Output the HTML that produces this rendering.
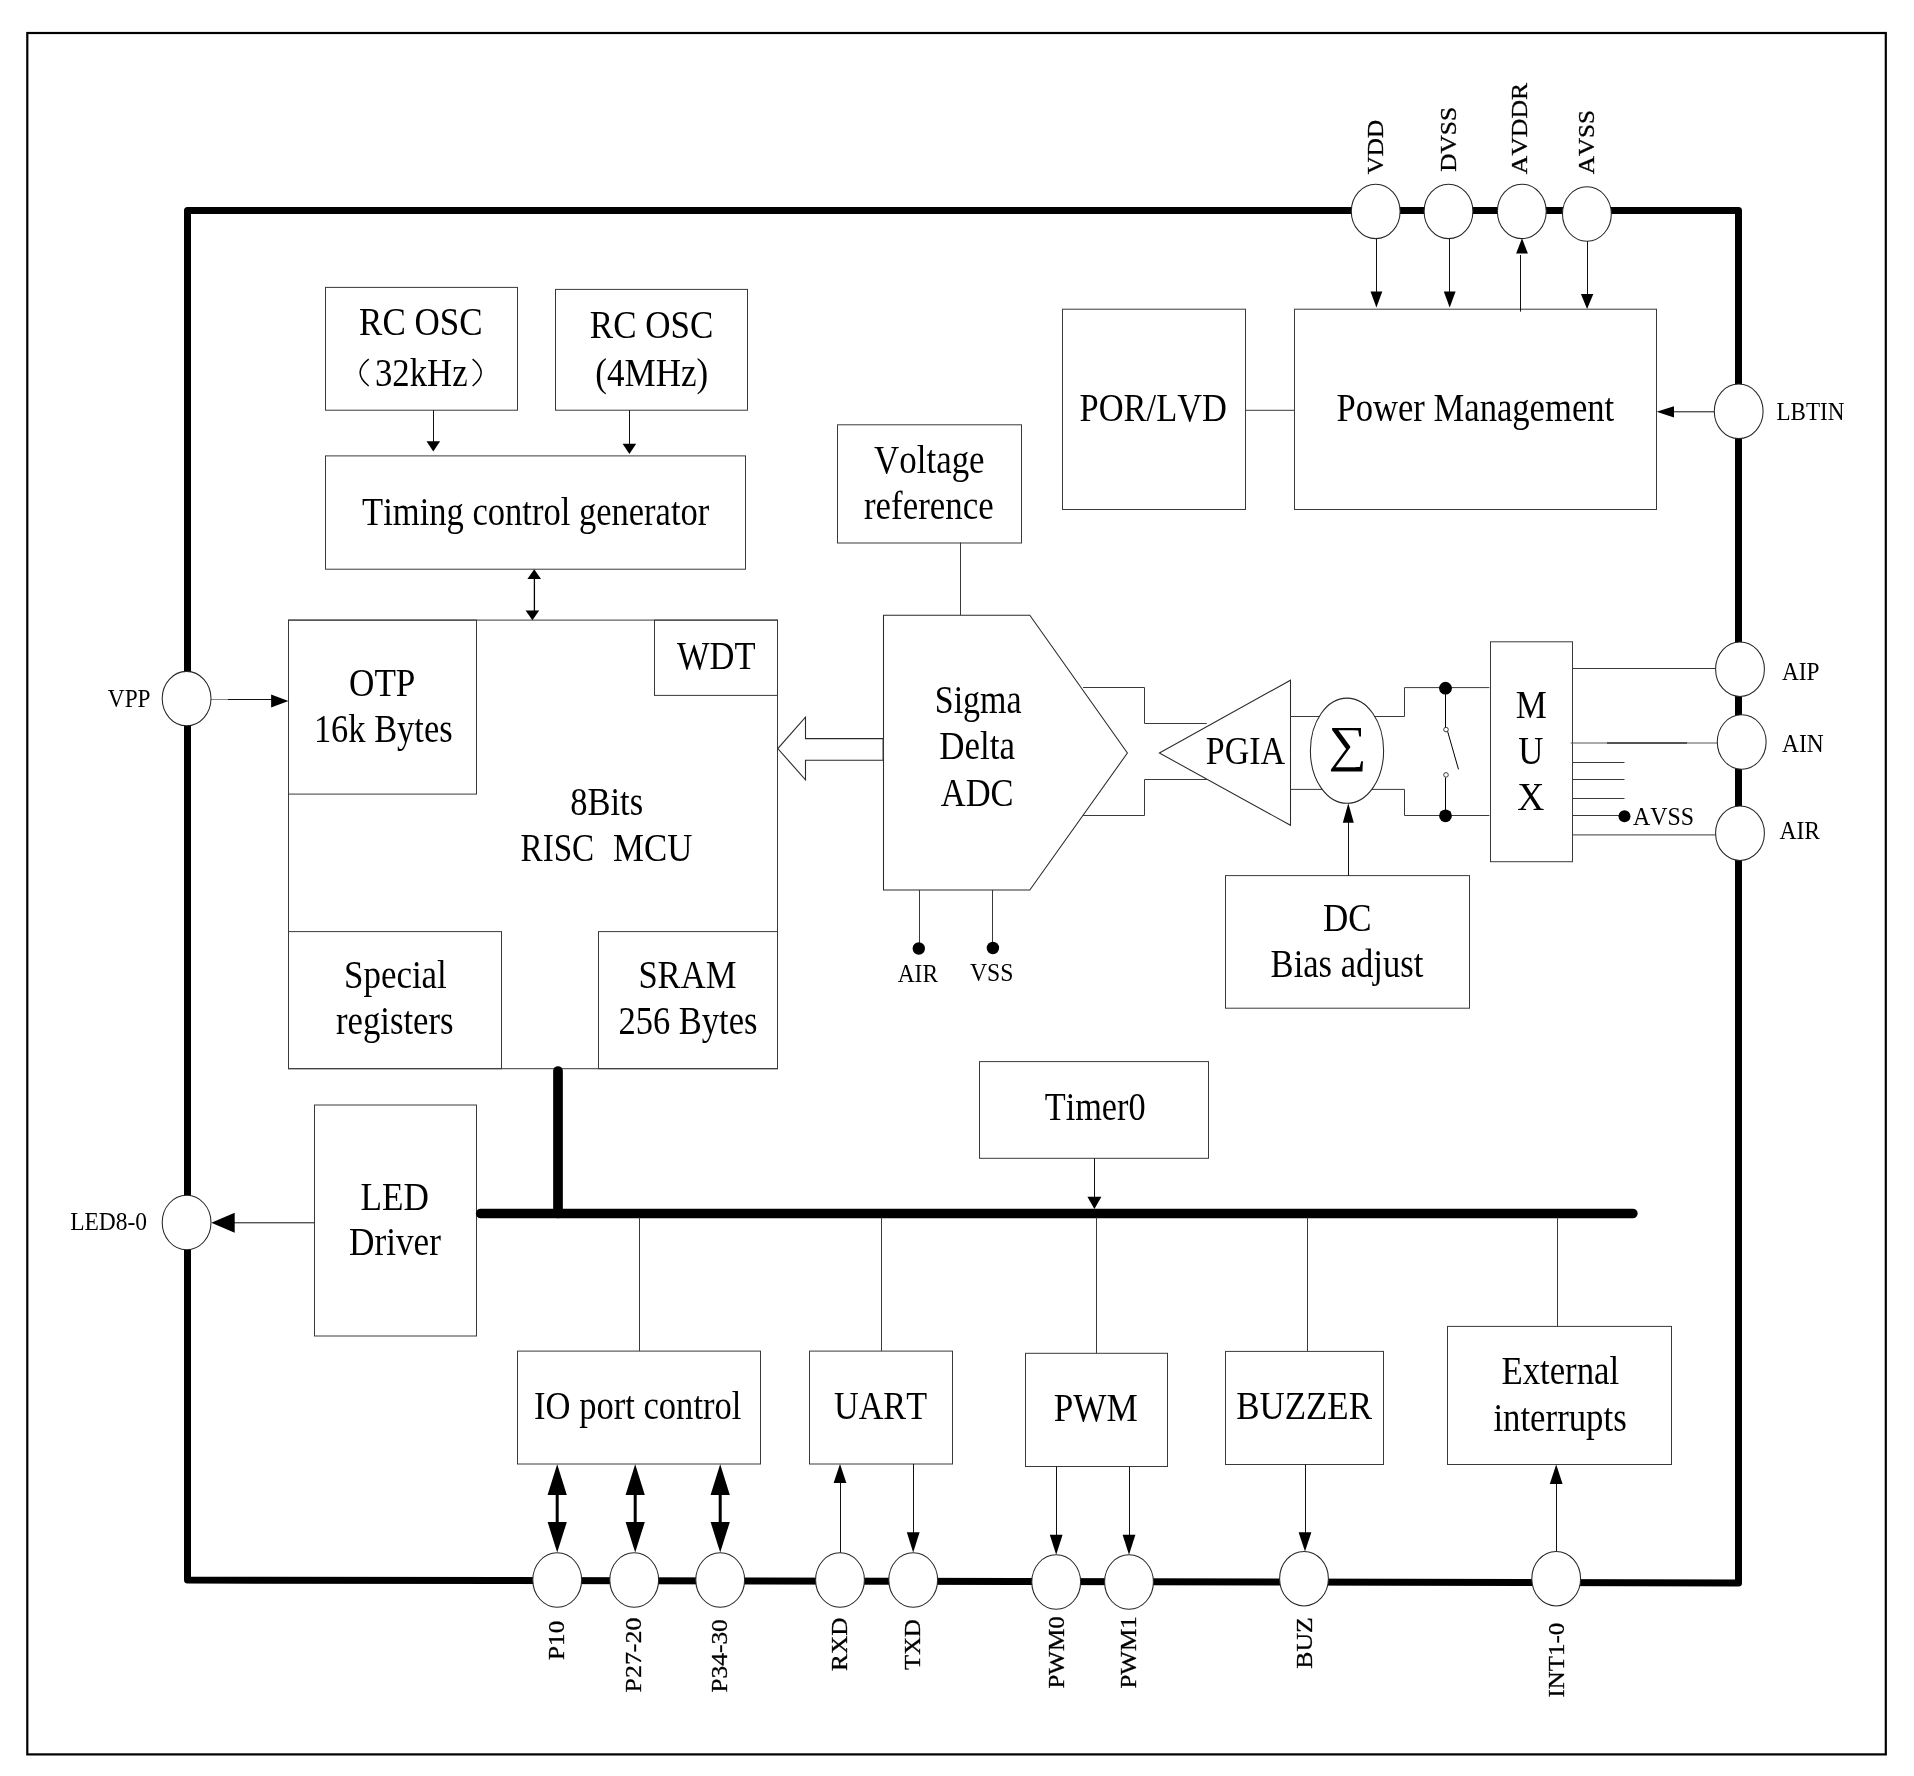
<!DOCTYPE html>
<html><head><meta charset="utf-8"><title>Block diagram</title>
<style>
html,body{margin:0;padding:0;background:#fff;}
body{width:1914px;height:1776px;overflow:hidden;}
svg{display:block;will-change:transform;}
text{font-family:"Liberation Serif",serif;font-kerning:none;}
</style></head><body>
<svg width="1914" height="1776" viewBox="0 0 1914 1776">
<rect x="0" y="0" width="1914" height="1776" fill="#fff"/>
<rect x="27.3" y="33.0" width="1858.5" height="1721.4" fill="none" stroke="#000" stroke-width="2.2"/>
<path d="M187.5 210.4 L1738.5 210.4 L1738.5 1583.0 L187.5 1580.0 L187.5 210.4" fill="none" stroke="#000" stroke-width="7.0" stroke-linecap="round" stroke-linejoin="round"/>
<rect x="325.5" y="287.4" width="192.0" height="122.8" fill="none" stroke="#3a3a3a" stroke-width="1.0"/>
<rect x="555.5" y="289.4" width="192.0" height="120.8" fill="none" stroke="#3a3a3a" stroke-width="1.0"/>
<rect x="325.5" y="455.9" width="420.0" height="113.3" fill="none" stroke="#3a3a3a" stroke-width="1.0"/>
<rect x="837.5" y="424.8" width="184.0" height="118.2" fill="none" stroke="#3a3a3a" stroke-width="1.0"/>
<rect x="1062.5" y="309.2" width="183.0" height="200.3" fill="none" stroke="#3a3a3a" stroke-width="1.0"/>
<rect x="1294.5" y="309.2" width="362.0" height="200.3" fill="none" stroke="#3a3a3a" stroke-width="1.0"/>
<rect x="288.5" y="620.1" width="489.0" height="448.6" fill="none" stroke="#3a3a3a" stroke-width="1.0"/>
<rect x="288.5" y="620.1" width="188.0" height="174.0" fill="none" stroke="#3a3a3a" stroke-width="1.0"/>
<rect x="654.5" y="620.1" width="123.0" height="75.3" fill="none" stroke="#3a3a3a" stroke-width="1.0"/>
<rect x="288.5" y="931.6" width="213.0" height="137.1" fill="none" stroke="#3a3a3a" stroke-width="1.0"/>
<rect x="598.5" y="931.6" width="179.0" height="137.1" fill="none" stroke="#3a3a3a" stroke-width="1.0"/>
<rect x="314.5" y="1105.0" width="162.0" height="231.0" fill="none" stroke="#3a3a3a" stroke-width="1.0"/>
<rect x="1225.5" y="875.6" width="244.0" height="132.6" fill="none" stroke="#3a3a3a" stroke-width="1.0"/>
<rect x="979.5" y="1061.6" width="229.0" height="96.7" fill="none" stroke="#3a3a3a" stroke-width="1.0"/>
<rect x="517.5" y="1351.1" width="243.0" height="112.9" fill="none" stroke="#3a3a3a" stroke-width="1.0"/>
<rect x="809.5" y="1351.1" width="143.0" height="112.9" fill="none" stroke="#3a3a3a" stroke-width="1.0"/>
<rect x="1025.5" y="1353.3" width="142.0" height="113.2" fill="none" stroke="#3a3a3a" stroke-width="1.0"/>
<rect x="1225.5" y="1351.4" width="158.0" height="113.1" fill="none" stroke="#3a3a3a" stroke-width="1.0"/>
<rect x="1447.5" y="1326.4" width="224.0" height="138.1" fill="none" stroke="#3a3a3a" stroke-width="1.0"/>
<rect x="1490.5" y="641.8" width="82.0" height="219.9" fill="none" stroke="#3a3a3a" stroke-width="1.0"/>
<polygon points="883.5,615.2 1029.8,615.2 1127.4,753.0 1029.8,890.0 883.5,890.0" fill="none" stroke="#2a2a2a" stroke-width="1.05"/>
<path d="M960.5 542.5 L960.5 615.2" fill="none" stroke="#3a3a3a" stroke-width="1.0" stroke-linecap="butt" stroke-linejoin="miter"/>
<path d="M919.5 890.0 L919.5 948.0" fill="none" stroke="#3a3a3a" stroke-width="1.0" stroke-linecap="butt" stroke-linejoin="miter"/>
<circle cx="918.8" cy="948.5" r="6.2" fill="#000"/>
<path d="M992.5 890.0 L992.5 948.0" fill="none" stroke="#3a3a3a" stroke-width="1.0" stroke-linecap="butt" stroke-linejoin="miter"/>
<circle cx="992.9" cy="948.0" r="6.2" fill="#000"/>
<polygon points="883.1,738.6 805.5,738.6 805.5,717.1 777.8,748.6 805.5,779.8 805.5,760.2 883.1,760.2" fill="#fff" stroke="#2a2a2a" stroke-width="1.1"/>
<polygon points="1159.4,753.0 1290.5,680.2 1290.5,825.3" fill="none" stroke="#2a2a2a" stroke-width="1.05"/>
<path d="M1083.1 687.5 L1144.5 687.5 L1144.5 723.5 L1206.8 723.5" fill="none" stroke="#3a3a3a" stroke-width="1.0" stroke-linecap="butt" stroke-linejoin="miter"/>
<path d="M1083.1 815.5 L1144.5 815.5 L1144.5 779.5 L1206.8 779.5" fill="none" stroke="#3a3a3a" stroke-width="1.0" stroke-linecap="butt" stroke-linejoin="miter"/>
<path d="M1290.5 716.5 L1335.0 716.5" fill="none" stroke="#3a3a3a" stroke-width="1.0" stroke-linecap="butt" stroke-linejoin="miter"/>
<path d="M1290.5 789.4 L1335.0 789.4" fill="none" stroke="#3a3a3a" stroke-width="1.0" stroke-linecap="butt" stroke-linejoin="miter"/>
<path d="M1360.0 716.5 L1404.5 716.5 L1404.5 687.6 L1489.4 687.6" fill="none" stroke="#3a3a3a" stroke-width="1.0" stroke-linecap="butt" stroke-linejoin="miter"/>
<path d="M1360.0 789.4 L1404.5 789.4 L1404.5 815.5 L1489.4 815.5" fill="none" stroke="#3a3a3a" stroke-width="1.0" stroke-linecap="butt" stroke-linejoin="miter"/>
<ellipse cx="1347.0" cy="750.7" rx="36.6" ry="52.6" fill="#fff" stroke="#262626" stroke-width="1.05"/>
<circle cx="1445.5" cy="688.2" r="6.4" fill="#000"/>
<circle cx="1445.5" cy="815.8" r="6.4" fill="#000"/>
<path d="M1445.5 688.0 L1445.5 727.0" fill="none" stroke="#000" stroke-width="1.0" stroke-linecap="butt" stroke-linejoin="miter"/>
<path d="M1447.5 731.0 L1458.5 769.4" fill="none" stroke="#000" stroke-width="1.0" stroke-linecap="butt" stroke-linejoin="miter"/>
<path d="M1445.5 777.5 L1445.5 815.0" fill="none" stroke="#000" stroke-width="1.0" stroke-linecap="butt" stroke-linejoin="miter"/>
<ellipse cx="1446.0" cy="729.6" rx="2.3" ry="2.3" fill="#fff" stroke="#262626" stroke-width="0.9"/>
<ellipse cx="1446.0" cy="774.9" rx="2.3" ry="2.3" fill="#fff" stroke="#262626" stroke-width="0.9"/>
<path d="M1348.5 875.6 L1348.5 815.0" fill="none" stroke="#111" stroke-width="1.0" stroke-linecap="butt" stroke-linejoin="miter"/>
<polygon points="1348.3,803.3 1342.8,822.8 1353.8,822.8" fill="#000" stroke="none" stroke-width="1"/>
<path d="M1572.7 668.5 L1716.0 668.5" fill="none" stroke="#3a3a3a" stroke-width="1.0" stroke-linecap="butt" stroke-linejoin="miter"/>
<path d="M1570.7 743.0 L1717.5 743.0" fill="none" stroke="#555" stroke-width="1.0" stroke-linecap="butt" stroke-linejoin="miter"/>
<path d="M1607.0 743.0 L1687.0 743.0" fill="none" stroke="#000" stroke-width="1.0" stroke-linecap="butt" stroke-linejoin="miter"/>
<path d="M1572.7 762.5 L1624.5 762.5" fill="none" stroke="#3a3a3a" stroke-width="1.0" stroke-linecap="butt" stroke-linejoin="miter"/>
<path d="M1572.7 779.5 L1624.5 779.5" fill="none" stroke="#3a3a3a" stroke-width="1.0" stroke-linecap="butt" stroke-linejoin="miter"/>
<path d="M1572.7 798.5 L1624.5 798.5" fill="none" stroke="#3a3a3a" stroke-width="1.0" stroke-linecap="butt" stroke-linejoin="miter"/>
<path d="M1572.7 815.5 L1624.5 815.5" fill="none" stroke="#3a3a3a" stroke-width="1.0" stroke-linecap="butt" stroke-linejoin="miter"/>
<circle cx="1624.5" cy="816.3" r="6" fill="#000"/>
<path d="M1572.7 834.9 L1716.0 834.9" fill="none" stroke="#3a3a3a" stroke-width="1.0" stroke-linecap="butt" stroke-linejoin="miter"/>
<path d="M480.7 1213.5 L1632.8 1213.5" fill="none" stroke="#000" stroke-width="9.7" stroke-linecap="round" stroke-linejoin="miter"/>
<path d="M558.0 1071.0 L558.0 1213.5" fill="none" stroke="#000" stroke-width="9.7" stroke-linecap="round" stroke-linejoin="miter"/>
<path d="M639.5 1217.5 L639.5 1351.1" fill="none" stroke="#3a3a3a" stroke-width="1.0" stroke-linecap="butt" stroke-linejoin="miter"/>
<path d="M881.5 1217.5 L881.5 1351.1" fill="none" stroke="#3a3a3a" stroke-width="1.0" stroke-linecap="butt" stroke-linejoin="miter"/>
<path d="M1096.5 1217.5 L1096.5 1353.3" fill="none" stroke="#3a3a3a" stroke-width="1.0" stroke-linecap="butt" stroke-linejoin="miter"/>
<path d="M1307.5 1217.5 L1307.5 1351.4" fill="none" stroke="#3a3a3a" stroke-width="1.0" stroke-linecap="butt" stroke-linejoin="miter"/>
<path d="M1557.5 1217.5 L1557.5 1326.4" fill="none" stroke="#3a3a3a" stroke-width="1.0" stroke-linecap="butt" stroke-linejoin="miter"/>
<path d="M1094.5 1158.3 L1094.5 1200.0" fill="none" stroke="#111" stroke-width="1.0" stroke-linecap="butt" stroke-linejoin="miter"/>
<polygon points="1094.4,1209.0 1087.4,1196.8 1101.4,1196.8" fill="#000" stroke="none" stroke-width="1"/>
<path d="M1245.1 410.3 L1294.0 410.3" fill="none" stroke="#3a3a3a" stroke-width="1.0" stroke-linecap="butt" stroke-linejoin="miter"/>
<path d="M433.5 410.2 L433.5 445.0" fill="none" stroke="#111" stroke-width="1.0" stroke-linecap="butt" stroke-linejoin="miter"/>
<polygon points="433.3,451.6 426.5,441.3 440.1,441.3" fill="#000" stroke="none" stroke-width="1"/>
<path d="M629.5 410.2 L629.5 447.0" fill="none" stroke="#111" stroke-width="1.0" stroke-linecap="butt" stroke-linejoin="miter"/>
<polygon points="629.4,454.0 622.6,443.8 636.2,443.8" fill="#000" stroke="none" stroke-width="1"/>
<path d="M534.4 575.0 L534.4 613.0" fill="none" stroke="#000" stroke-width="1.3" stroke-linecap="butt" stroke-linejoin="miter"/>
<polygon points="534.2,569.2 527.4,579.0 541.0,579.0" fill="#000" stroke="none" stroke-width="1"/>
<polygon points="532.4,620.3 525.6,610.4 539.2,610.4" fill="#000" stroke="none" stroke-width="1"/>
<path d="M211.0 699.5 L229.0 699.5" fill="none" stroke="#888" stroke-width="1.0" stroke-linecap="butt" stroke-linejoin="miter"/>
<path d="M228.0 699.5 L275.0 699.5" fill="none" stroke="#111" stroke-width="1.0" stroke-linecap="butt" stroke-linejoin="miter"/>
<polygon points="288.4,701.1 271.1,694.6 271.1,707.6" fill="#000" stroke="none" stroke-width="1"/>
<path d="M314.4 1222.8 L230.0 1222.8" fill="none" stroke="#111" stroke-width="1.0" stroke-linecap="butt" stroke-linejoin="miter"/>
<polygon points="211.3,1222.8 234.7,1212.8 234.7,1232.8" fill="#000" stroke="none" stroke-width="1"/>
<path d="M557.2 1490.0 L557.2 1528.0" fill="none" stroke="#000" stroke-width="3" stroke-linecap="butt" stroke-linejoin="miter"/>
<polygon points="557.2,1464.2 547.6,1495.0 566.8,1495.0" fill="#000" stroke="none" stroke-width="1"/>
<polygon points="557.2,1552.4 547.6,1522.0 566.8,1522.0" fill="#000" stroke="none" stroke-width="1"/>
<path d="M635.2 1490.0 L635.2 1528.0" fill="none" stroke="#000" stroke-width="3" stroke-linecap="butt" stroke-linejoin="miter"/>
<polygon points="635.2,1464.2 625.6,1495.0 644.8,1495.0" fill="#000" stroke="none" stroke-width="1"/>
<polygon points="635.2,1552.4 625.6,1522.0 644.8,1522.0" fill="#000" stroke="none" stroke-width="1"/>
<path d="M720.2 1490.0 L720.2 1528.0" fill="none" stroke="#000" stroke-width="3" stroke-linecap="butt" stroke-linejoin="miter"/>
<polygon points="720.2,1464.2 710.6,1495.0 729.8,1495.0" fill="#000" stroke="none" stroke-width="1"/>
<polygon points="720.2,1552.4 710.6,1522.0 729.8,1522.0" fill="#000" stroke="none" stroke-width="1"/>
<path d="M840.5 1553.0 L840.5 1480.0" fill="none" stroke="#111" stroke-width="1.0" stroke-linecap="butt" stroke-linejoin="miter"/>
<polygon points="840.0,1464.0 833.6,1483.0 846.4,1483.0" fill="#000" stroke="none" stroke-width="1"/>
<path d="M913.5 1464.0 L913.5 1535.0" fill="none" stroke="#111" stroke-width="1.0" stroke-linecap="butt" stroke-linejoin="miter"/>
<polygon points="913.2,1552.4 906.8,1532.2 919.6,1532.2" fill="#000" stroke="none" stroke-width="1"/>
<path d="M1056.5 1466.5 L1056.5 1537.0" fill="none" stroke="#111" stroke-width="1.0" stroke-linecap="butt" stroke-linejoin="miter"/>
<polygon points="1056.2,1554.7 1049.8,1534.8 1062.6,1534.8" fill="#000" stroke="none" stroke-width="1"/>
<path d="M1129.5 1466.5 L1129.5 1537.0" fill="none" stroke="#111" stroke-width="1.0" stroke-linecap="butt" stroke-linejoin="miter"/>
<polygon points="1129.0,1554.7 1122.6,1534.8 1135.4,1534.8" fill="#000" stroke="none" stroke-width="1"/>
<path d="M1305.5 1464.5 L1305.5 1535.0" fill="none" stroke="#111" stroke-width="1.0" stroke-linecap="butt" stroke-linejoin="miter"/>
<polygon points="1305.0,1551.5 1298.6,1532.3 1311.4,1532.3" fill="#000" stroke="none" stroke-width="1"/>
<path d="M1556.5 1552.0 L1556.5 1480.0" fill="none" stroke="#111" stroke-width="1.0" stroke-linecap="butt" stroke-linejoin="miter"/>
<polygon points="1556.2,1464.5 1549.8,1484.0 1562.6,1484.0" fill="#000" stroke="none" stroke-width="1"/>
<path d="M1376.5 238.0 L1376.5 295.0" fill="none" stroke="#111" stroke-width="1.0" stroke-linecap="butt" stroke-linejoin="miter"/>
<polygon points="1376.4,307.5 1370.5,291.6 1382.3,291.6" fill="#000" stroke="none" stroke-width="1"/>
<path d="M1449.5 238.0 L1449.5 295.0" fill="none" stroke="#111" stroke-width="1.0" stroke-linecap="butt" stroke-linejoin="miter"/>
<polygon points="1449.7,307.5 1443.8,291.6 1455.6,291.6" fill="#000" stroke="none" stroke-width="1"/>
<path d="M1520.5 311.6 L1520.5 255.0" fill="none" stroke="#111" stroke-width="1.0" stroke-linecap="butt" stroke-linejoin="miter"/>
<polygon points="1522.0,238.3 1516.1,253.6 1527.9,253.6" fill="#000" stroke="none" stroke-width="1"/>
<path d="M1587.5 241.0 L1587.5 297.0" fill="none" stroke="#111" stroke-width="1.0" stroke-linecap="butt" stroke-linejoin="miter"/>
<polygon points="1587.1,309.0 1580.9,294.1 1593.3,294.1" fill="#000" stroke="none" stroke-width="1"/>
<path d="M1714.5 411.8 L1670.0 411.8" fill="none" stroke="#111" stroke-width="1.0" stroke-linecap="butt" stroke-linejoin="miter"/>
<polygon points="1656.6,411.8 1674.0,406.2 1674.0,417.4" fill="#000" stroke="none" stroke-width="1"/>
<ellipse cx="1375.7" cy="211.4" rx="24.4" ry="27.2" fill="#fff" stroke="#262626" stroke-width="1.05"/>
<ellipse cx="1448.5" cy="211.4" rx="24.4" ry="27.2" fill="#fff" stroke="#262626" stroke-width="1.05"/>
<ellipse cx="1521.8" cy="211.4" rx="24.4" ry="27.2" fill="#fff" stroke="#262626" stroke-width="1.05"/>
<ellipse cx="1586.9" cy="214.0" rx="24.4" ry="27.2" fill="#fff" stroke="#262626" stroke-width="1.05"/>
<ellipse cx="1738.7" cy="411.3" rx="24.4" ry="27.2" fill="#fff" stroke="#262626" stroke-width="1.05"/>
<ellipse cx="1740.0" cy="669.2" rx="24.4" ry="27.2" fill="#fff" stroke="#262626" stroke-width="1.05"/>
<ellipse cx="1741.7" cy="742.0" rx="24.4" ry="27.2" fill="#fff" stroke="#262626" stroke-width="1.05"/>
<ellipse cx="1740.0" cy="833.2" rx="24.4" ry="27.2" fill="#fff" stroke="#262626" stroke-width="1.05"/>
<ellipse cx="186.6" cy="698.6" rx="24.4" ry="27.2" fill="#fff" stroke="#262626" stroke-width="1.05"/>
<ellipse cx="186.6" cy="1222.5" rx="24.4" ry="27.2" fill="#fff" stroke="#262626" stroke-width="1.05"/>
<ellipse cx="557.2" cy="1580.0" rx="24.4" ry="27.2" fill="#fff" stroke="#262626" stroke-width="1.05"/>
<ellipse cx="634.2" cy="1580.0" rx="24.4" ry="27.2" fill="#fff" stroke="#262626" stroke-width="1.05"/>
<ellipse cx="720.2" cy="1580.0" rx="24.4" ry="27.2" fill="#fff" stroke="#262626" stroke-width="1.05"/>
<ellipse cx="840.0" cy="1580.0" rx="24.4" ry="27.2" fill="#fff" stroke="#262626" stroke-width="1.05"/>
<ellipse cx="913.2" cy="1580.0" rx="24.4" ry="27.2" fill="#fff" stroke="#262626" stroke-width="1.05"/>
<ellipse cx="1056.2" cy="1582.0" rx="24.4" ry="27.2" fill="#fff" stroke="#262626" stroke-width="1.05"/>
<ellipse cx="1129.0" cy="1582.0" rx="24.4" ry="27.2" fill="#fff" stroke="#262626" stroke-width="1.05"/>
<ellipse cx="1304.0" cy="1578.7" rx="24.4" ry="27.2" fill="#fff" stroke="#262626" stroke-width="1.05"/>
<ellipse cx="1556.2" cy="1578.7" rx="24.4" ry="27.2" fill="#fff" stroke="#262626" stroke-width="1.05"/>
<text x="359.1" y="335.4" font-size="39" textLength="123.5" lengthAdjust="spacingAndGlyphs" fill="#000" >RC OSC</text>
<text x="375.0" y="385.6" font-size="39" textLength="92.6" lengthAdjust="spacingAndGlyphs" fill="#000" >32kHz</text>
<path d="M368.7 359.2 Q351.5 372.6 368.7 386" fill="none" stroke="#000" stroke-width="1.5"/>
<path d="M472.6 359.2 Q489.8 372.6 472.6 386" fill="none" stroke="#000" stroke-width="1.5"/>
<text x="589.8" y="337.9" font-size="39" textLength="123.5" lengthAdjust="spacingAndGlyphs" fill="#000" >RC OSC</text>
<text x="595.3" y="385.6" font-size="39" textLength="113.0" lengthAdjust="spacingAndGlyphs" fill="#000" >(4MHz)</text>
<text x="362.1" y="525.0" font-size="39" textLength="347.2" lengthAdjust="spacingAndGlyphs" fill="#000" >Timing control generator</text>
<text x="874.1" y="473.3" font-size="39" textLength="110.5" lengthAdjust="spacingAndGlyphs" fill="#000" >Voltage</text>
<text x="864.0" y="518.5" font-size="39" textLength="129.6" lengthAdjust="spacingAndGlyphs" fill="#000" >reference</text>
<text x="1079.6" y="421.4" font-size="39" textLength="147.3" lengthAdjust="spacingAndGlyphs" fill="#000" >POR/LVD</text>
<text x="1336.4" y="421.4" font-size="39" textLength="277.8" lengthAdjust="spacingAndGlyphs" fill="#000" >Power Management</text>
<text x="349.0" y="695.7" font-size="39" textLength="66.4" lengthAdjust="spacingAndGlyphs" fill="#000" >OTP</text>
<text x="313.9" y="741.9" font-size="39" textLength="138.7" lengthAdjust="spacingAndGlyphs" fill="#000" >16k Bytes</text>
<text x="677.0" y="668.7" font-size="39" textLength="78.5" lengthAdjust="spacingAndGlyphs" fill="#000" >WDT</text>
<text x="570.2" y="815.1" font-size="39" textLength="72.9" lengthAdjust="spacingAndGlyphs" fill="#000" >8Bits</text>
<text x="520.6" y="861.2" font-size="39" textLength="73.6" lengthAdjust="spacingAndGlyphs" fill="#000" >RISC</text>
<text x="613.0" y="861.2" font-size="39" textLength="79.3" lengthAdjust="spacingAndGlyphs" fill="#000" >MCU</text>
<text x="344.0" y="988.1" font-size="39" textLength="102.8" lengthAdjust="spacingAndGlyphs" fill="#000" >Special</text>
<text x="336.0" y="1033.8" font-size="39" textLength="117.6" lengthAdjust="spacingAndGlyphs" fill="#000" >registers</text>
<text x="638.4" y="988.1" font-size="39" textLength="98.0" lengthAdjust="spacingAndGlyphs" fill="#000" >SRAM</text>
<text x="618.4" y="1033.8" font-size="39" textLength="139.1" lengthAdjust="spacingAndGlyphs" fill="#000" >256 Bytes</text>
<text x="360.6" y="1209.6" font-size="39" textLength="68.4" lengthAdjust="spacingAndGlyphs" fill="#000" >LED</text>
<text x="349.0" y="1255.3" font-size="39" textLength="92.0" lengthAdjust="spacingAndGlyphs" fill="#000" >Driver</text>
<text x="534.1" y="1418.7" font-size="39" textLength="207.3" lengthAdjust="spacingAndGlyphs" fill="#000" >IO port control</text>
<text x="834.0" y="1418.7" font-size="39" textLength="93.0" lengthAdjust="spacingAndGlyphs" fill="#000" >UART</text>
<text x="934.8" y="713.0" font-size="39" textLength="86.7" lengthAdjust="spacingAndGlyphs" fill="#000" >Sigma</text>
<text x="939.3" y="758.9" font-size="39" textLength="75.7" lengthAdjust="spacingAndGlyphs" fill="#000" >Delta</text>
<text x="940.8" y="805.7" font-size="39" textLength="72.7" lengthAdjust="spacingAndGlyphs" fill="#000" >ADC</text>
<text x="1205.8" y="763.8" font-size="39" textLength="79.4" lengthAdjust="spacingAndGlyphs" fill="#000" >PGIA</text>
<text x="1515.8" y="717.5" font-size="39" textLength="31.1" lengthAdjust="spacingAndGlyphs" fill="#000" >M</text>
<text x="1518.3" y="763.8" font-size="39" textLength="25.2" lengthAdjust="spacingAndGlyphs" fill="#000" >U</text>
<text x="1517.3" y="809.7" font-size="39" textLength="27.1" lengthAdjust="spacingAndGlyphs" fill="#000" >X</text>
<text x="1322.9" y="930.8" font-size="39" textLength="48.6" lengthAdjust="spacingAndGlyphs" fill="#000" >DC</text>
<text x="1270.6" y="976.7" font-size="39" textLength="152.7" lengthAdjust="spacingAndGlyphs" fill="#000" >Bias adjust</text>
<text x="1044.7" y="1120.3" font-size="39" textLength="100.9" lengthAdjust="spacingAndGlyphs" fill="#000" >Timer0</text>
<text x="1053.7" y="1420.5" font-size="39" textLength="84.0" lengthAdjust="spacingAndGlyphs" fill="#000" >PWM</text>
<text x="1236.2" y="1419.1" font-size="39" textLength="135.8" lengthAdjust="spacingAndGlyphs" fill="#000" >BUZZER</text>
<text x="1501.4" y="1383.7" font-size="39" textLength="117.8" lengthAdjust="spacingAndGlyphs" fill="#000" >External</text>
<text x="1493.4" y="1430.5" font-size="39" textLength="133.3" lengthAdjust="spacingAndGlyphs" fill="#000" >interrupts</text>
<text x="1328.5" y="761.0" font-size="50" textLength="38.2" lengthAdjust="spacingAndGlyphs" fill="#000" >∑</text>
<text x="107.8" y="706.8" font-size="25.6" textLength="42.8" lengthAdjust="spacingAndGlyphs" fill="#000" >VPP</text>
<text x="70.2" y="1229.6" font-size="25.6" textLength="76.9" lengthAdjust="spacingAndGlyphs" fill="#000" >LED8-0</text>
<text x="897.7" y="981.6" font-size="25.6" textLength="40.3" lengthAdjust="spacingAndGlyphs" fill="#000" >AIR</text>
<text x="970.0" y="980.7" font-size="25.6" textLength="43.5" lengthAdjust="spacingAndGlyphs" fill="#000" >VSS</text>
<text x="1633.0" y="824.5" font-size="25.6" textLength="61.0" lengthAdjust="spacingAndGlyphs" fill="#000" >AVSS</text>
<text x="1782.0" y="680.1" font-size="25.6" textLength="37.6" lengthAdjust="spacingAndGlyphs" fill="#000" >AIP</text>
<text x="1782.0" y="752.4" font-size="25.6" textLength="41.6" lengthAdjust="spacingAndGlyphs" fill="#000" >AIN</text>
<text x="1779.5" y="839.1" font-size="25.6" textLength="40.6" lengthAdjust="spacingAndGlyphs" fill="#000" >AIR</text>
<text x="1776.5" y="420.1" font-size="25.6" textLength="68.0" lengthAdjust="spacingAndGlyphs" fill="#000" >LBTIN</text>
<text transform="translate(1383.0 174.3) rotate(-90) scale(1 0.87)" x="0" y="0" font-size="26.5" textLength="54.5" lengthAdjust="spacingAndGlyphs" fill="#000" stroke="#000" stroke-width="0.35">VDD</text>
<text transform="translate(1456.3 171.8) rotate(-90) scale(1 0.87)" x="0" y="0" font-size="26.5" textLength="64.9" lengthAdjust="spacingAndGlyphs" fill="#000" stroke="#000" stroke-width="0.35">DVSS</text>
<text transform="translate(1526.6 174.3) rotate(-90) scale(1 0.87)" x="0" y="0" font-size="26.5" textLength="91.4" lengthAdjust="spacingAndGlyphs" fill="#000" stroke="#000" stroke-width="0.35">AVDDR</text>
<text transform="translate(1594.1 174.3) rotate(-90) scale(1 0.87)" x="0" y="0" font-size="26.5" textLength="64.4" lengthAdjust="spacingAndGlyphs" fill="#000" stroke="#000" stroke-width="0.35">AVSS</text>
<text transform="translate(564.0 1659.9) rotate(-90) scale(1 0.87)" x="0" y="0" font-size="26.5" textLength="39.2" lengthAdjust="spacingAndGlyphs" fill="#000" stroke="#000" stroke-width="0.35">P10</text>
<text transform="translate(641.2 1692.5) rotate(-90) scale(1 0.87)" x="0" y="0" font-size="26.5" textLength="74.9" lengthAdjust="spacingAndGlyphs" fill="#000" stroke="#000" stroke-width="0.35">P27-20</text>
<text transform="translate(727.0 1692.5) rotate(-90) scale(1 0.87)" x="0" y="0" font-size="26.5" textLength="73.3" lengthAdjust="spacingAndGlyphs" fill="#000" stroke="#000" stroke-width="0.35">P34-30</text>
<text transform="translate(846.8 1670.9) rotate(-90) scale(1 0.87)" x="0" y="0" font-size="26.5" textLength="53.3" lengthAdjust="spacingAndGlyphs" fill="#000" stroke="#000" stroke-width="0.35">RXD</text>
<text transform="translate(920.1 1669.9) rotate(-90) scale(1 0.87)" x="0" y="0" font-size="26.5" textLength="50.7" lengthAdjust="spacingAndGlyphs" fill="#000" stroke="#000" stroke-width="0.35">TXD</text>
<text transform="translate(1064.0 1688.6) rotate(-90) scale(1 0.87)" x="0" y="0" font-size="26.5" textLength="72.3" lengthAdjust="spacingAndGlyphs" fill="#000" stroke="#000" stroke-width="0.35">PWM0</text>
<text transform="translate(1136.3 1688.6) rotate(-90) scale(1 0.87)" x="0" y="0" font-size="26.5" textLength="72.3" lengthAdjust="spacingAndGlyphs" fill="#000" stroke="#000" stroke-width="0.35">PWM1</text>
<text transform="translate(1311.7 1668.7) rotate(-90) scale(1 0.87)" x="0" y="0" font-size="26.5" textLength="51.5" lengthAdjust="spacingAndGlyphs" fill="#000" stroke="#000" stroke-width="0.35">BUZ</text>
<text transform="translate(1564.0 1697.6) rotate(-90) scale(1 0.87)" x="0" y="0" font-size="26.5" textLength="74.9" lengthAdjust="spacingAndGlyphs" fill="#000" stroke="#000" stroke-width="0.35">INT1-0</text>
</svg>
</body></html>
